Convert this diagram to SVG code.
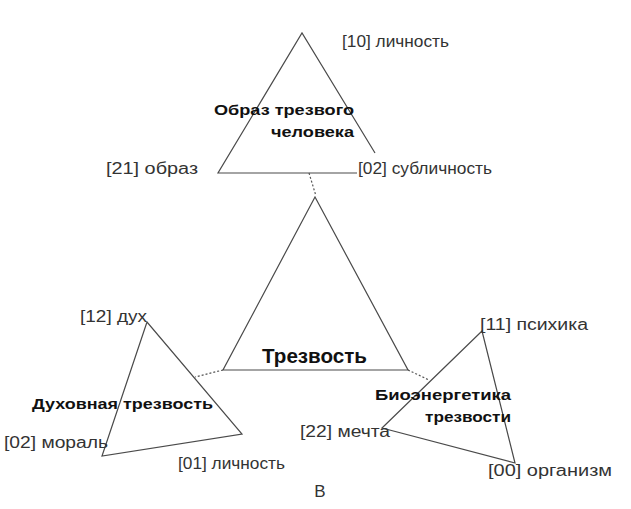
<svg xmlns="http://www.w3.org/2000/svg" width="631" height="509" viewBox="0 0 631 509">
<style>
.tri{fill:none;stroke:#4a4a4a;stroke-width:1.2}
.dot{fill:none;stroke:#555;stroke-width:1.2;stroke-dasharray:2 2}
.lbl{font-family:"Liberation Sans",Arial,sans-serif;font-size:16px;fill:#333}
.ttl{font-family:"Liberation Sans",Arial,sans-serif;font-size:15px;font-weight:bold;fill:#111}
.big{font-family:"Liberation Sans",Arial,sans-serif;font-size:20px;font-weight:bold;fill:#111}
</style>
<rect width="631" height="509" fill="#fff"/>
<g id="connectors">
<line class="dot" x1="309" y1="173" x2="316" y2="196"/>
<line class="dot" x1="223" y1="370" x2="195" y2="377"/>
<line class="dot" x1="408" y1="370" x2="429" y2="380"/>
</g>
<g id="center">
<polygon class="tri" points="315,197 223,370 408,370"/>
<text class="big" x="262" y="363" textLength="105" lengthAdjust="spacingAndGlyphs">Трезвость</text>
</g>
<g id="top">
<polyline class="tri" points="375,153 302,33 218,173 357,173"/>
<text class="ttl" x="354" y="115" text-anchor="end" textLength="140" lengthAdjust="spacingAndGlyphs">Образ трезвого</text>
<text class="ttl" x="354" y="137" text-anchor="end" textLength="83" lengthAdjust="spacingAndGlyphs">человека</text>
<text class="lbl" x="342" y="47" textLength="107" lengthAdjust="spacingAndGlyphs">[10] личность</text>
<text class="lbl" x="106" y="174" textLength="92" lengthAdjust="spacingAndGlyphs">[21] образ</text>
<text class="lbl" x="358" y="174" textLength="134" lengthAdjust="spacingAndGlyphs">[02] субличность</text>
</g>
<g id="left">
<polygon class="tri" points="147,322 102,456 242,434"/>
<text class="ttl" x="32" y="409" textLength="181" lengthAdjust="spacingAndGlyphs">Духовная трезвость</text>
<text class="lbl" x="80" y="322" textLength="67" lengthAdjust="spacingAndGlyphs">[12] дух</text>
<text class="lbl" x="4" y="448" textLength="104" lengthAdjust="spacingAndGlyphs">[02] мораль</text>
<text class="lbl" x="178" y="469" textLength="107" lengthAdjust="spacingAndGlyphs">[01] личность</text>
</g>
<g id="right">
<polygon class="tri" points="482,331 382,428 515,463"/>
<text class="ttl" x="511" y="400" text-anchor="end" textLength="136" lengthAdjust="spacingAndGlyphs">Биоэнергетика</text>
<text class="ttl" x="511" y="422" text-anchor="end" textLength="86" lengthAdjust="spacingAndGlyphs">трезвости</text>
<text class="lbl" x="480" y="330" textLength="108" lengthAdjust="spacingAndGlyphs">[11] психика</text>
<text class="lbl" x="300" y="437" textLength="90" lengthAdjust="spacingAndGlyphs">[22] мечта</text>
<text class="lbl" x="488" y="476" textLength="124" lengthAdjust="spacingAndGlyphs">[00] организм</text>
</g>
<text class="lbl" x="320" y="497" text-anchor="middle" style="font-size:17px">В</text>
</svg>
